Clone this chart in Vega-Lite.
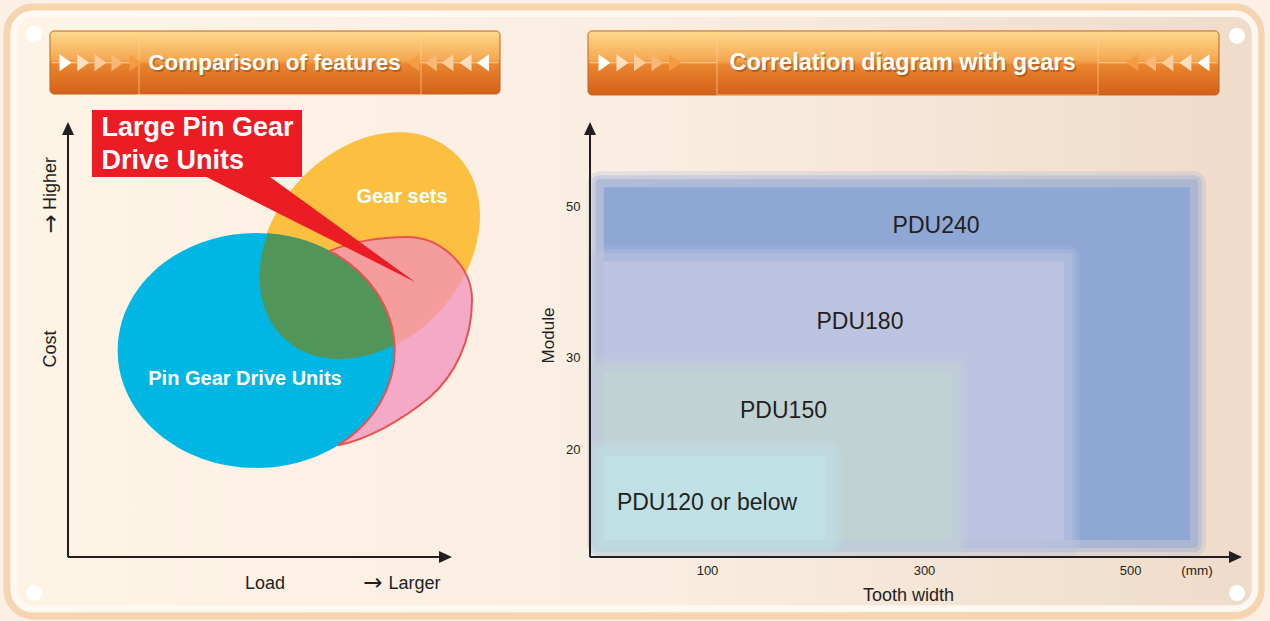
{
"$schema":"https://vega.github.io/schema/vega-lite/v6.json",
"width":1254,"height":609,
"autosize":{"type":"none"},
"padding":{"left":7,"top":7,"right":9,"bottom":5},
"background":"#fcefe3",
"view":{"fill":{"gradient":"linear","x1":0,"y1":0,"x2":1,"y2":0,"stops":[{"offset":0,"color":"#fef4e6"},{"offset":0.5,"color":"#faeee2"},{"offset":1,"color":"#efdbc9"}]},"stroke":"#f7d4b0","strokeWidth":7,"cornerRadius":26},
"config":{"text":{"font":"Liberation Sans"},"axis":{"labelFont":"Liberation Sans","titleFont":"Liberation Sans"}},
"datasets":{
"venn":[
{"region":"Gear sets","x":78.5,"y":71.5},
{"region":"Pin Gear Drive Units","x":49,"y":47.5},
{"region":"Both","x":68,"y":59},
{"region":"Large Pin Gear Drive Units","x":86,"y":50}
],
"trianglesL":[
{"dir":"right","step":1,"x":-0.65,"y":113.61},
{"dir":"right","step":2,"x":3.98,"y":113.61},
{"dir":"right","step":3,"x":8.46,"y":113.61},
{"dir":"right","step":4,"x":12.89,"y":113.61},
{"dir":"right","step":5,"x":17.58,"y":113.61},
{"dir":"left","step":5,"x":89.92,"y":113.61},
{"dir":"left","step":4,"x":94.48,"y":113.61},
{"dir":"left","step":3,"x":98.83,"y":113.61},
{"dir":"left","step":2,"x":103.52,"y":113.61},
{"dir":"left","step":1,"x":108.07,"y":113.61}
],
"trianglesR":[
{"dir":"right","step":1,"x":5.53,"y":68.86},
{"dir":"right","step":2,"x":22.12,"y":68.86},
{"dir":"right","step":3,"x":38.25,"y":68.86},
{"dir":"right","step":4,"x":54.38,"y":68.86},
{"dir":"right","step":5,"x":70.51,"y":68.86},
{"dir":"left","step":5,"x":492.0,"y":68.86},
{"dir":"left","step":4,"x":508.3,"y":68.86},
{"dir":"left","step":3,"x":524.3,"y":68.86},
{"dir":"left","step":2,"x":540.9,"y":68.86},
{"dir":"left","step":1,"x":557.6,"y":68.86}
],
"models":[
{"model":"PDU240","x":1,"x2":549,"y":53,"y2":2.4},
{"model":"PDU180","x":1,"x2":433,"y":43.2,"y2":2.4},
{"model":"PDU150","x":1,"x2":329,"y":28.8,"y2":2.4},
{"model":"PDU120 or below","x":1,"x2":213,"y":19.4,"y2":2.4}
],
"modelLabels":[
{"label":"PDU240","x":311.1,"y":47.35},
{"label":"PDU180","x":241.0,"y":34.69},
{"label":"PDU150","x":170.5,"y":24.1},
{"label":"PDU120 or below","x":100,"y":10.07}
]
},
"resolve":{"scale":{"x":"independent","y":"independent"}},
"layer":[
{
"encoding":{
"x":{"field":"x","type":"quantitative","scale":{"domain":[0,100],"range":[61,445],"nice":false,"zero":false},"axis":null},
"y":{"field":"y","type":"quantitative","scale":{"domain":[0,100],"range":[550,115],"nice":false,"zero":false},"axis":null}
},
"layer":[
{"data":{"values":[{"x":-14.13,"x2":309.11,"y":124.89,"y2":-11.84}]},
"mark":{"type":"rect","fillOpacity":0,"stroke":"#fffaf3","strokeWidth":6.5,"strokeOpacity":0.9,"cornerRadius":20},
"encoding":{"x2":{"field":"x2"},"y2":{"field":"y2"}}},
{"data":{"values":[{"x":-8.85,"y":120.23},{"x":-8.85,"y":-8.28}]},
"mark":{"type":"point","shape":"circle","filled":true,"size":254,"color":"#ffffff","opacity":1}},
{"data":{"values":[{"x":-4.6875,"x2":112.5,"y":120.92,"y2":106.44}]},
"mark":{"type":"rect","cornerRadius":4,"stroke":"#c5611b","strokeWidth":1,"fill":{"gradient":"linear","x1":0,"y1":0,"x2":0,"y2":1,"stops":[{"offset":0,"color":"#ffda8e"},{"offset":0.45,"color":"#f5a851"},{"offset":0.5,"color":"#ee9a42"},{"offset":0.53,"color":"#e8852e"},{"offset":1,"color":"#d4601a"}]}},
"encoding":{"x2":{"field":"x2"},"y2":{"field":"y2"}}},
{"data":{"values":[{"x":-4.17,"x2":18.49,"y":113.63},{"x":91.93,"x2":111.98,"y":113.63}]},
"mark":{"type":"rule","color":"#ffe0b5","strokeWidth":1,"opacity":0.7},
"encoding":{"x2":{"field":"x2"}}},
{"data":{"values":[{"x":18.49,"x2":91.93,"y":119.01,"y2":106.21}]},
"mark":{"type":"rect","fillOpacity":0,"stroke":"#fbd09a","strokeWidth":1,"strokeOpacity":0.7},
"encoding":{"x2":{"field":"x2"},"y2":{"field":"y2"}}},
{"data":{"name":"trianglesL"},
"mark":{"type":"point","filled":true,"size":4,"opacity":1,"strokeWidth":0},
"encoding":{
"shape":{"field":"dir","type":"nominal","scale":{"domain":["right","left"],"range":["M-6,-8.5L6,0L-6,8.5Z","M6,-8.5L-6,0L6,8.5Z"]},"legend":null},
"fill":{"field":"step","type":"ordinal","scale":{"domain":[1,2,3,4,5],"range":["#ffffff","#fde0c0","#fbcd9e","#f8b677","#f59c43"]},"legend":null}}},
{"data":{"values":[{"label":"Comparison of features","x":53.78,"y":113.61}]},
"mark":{"type":"text","fontWeight":"bold","fontSize":22.5,"color":"#7a3808","opacity":0.4,"dx":1.5,"dy":2.5,"align":"center","baseline":"middle"},
"encoding":{"text":{"field":"label"}}},
{"data":{"values":[{"label":"Comparison of features","x":53.78,"y":113.61}]},
"mark":{"type":"text","fontWeight":"bold","fontSize":22.5,"color":"#ffffff","align":"center","baseline":"middle"},
"encoding":{"text":{"field":"label"}}},
{"data":{"values":[{"x":0,"y":0,"x2":0,"y2":97.3},{"x":0,"y":0,"x2":97.3,"y2":0}]},
"mark":{"type":"rule","color":"#231f20","strokeWidth":2},
"encoding":{"x2":{"field":"x2"},"y2":{"field":"y2"}}},
{"data":{"values":[{"x":0,"y":100}]},
"mark":{"type":"point","filled":true,"size":4,"opacity":1,"color":"#231f20","shape":"M-6,13L0,0L6,13Z"}},
{"data":{"values":[{"x":100,"y":0}]},
"mark":{"type":"point","filled":true,"size":4,"opacity":1,"color":"#231f20","shape":"M-13,-6L0,0L-13,6Z"}},
{"data":{"values":[{"label":"Cost","x":-4.3,"y":47.82},{"label":"Higher","x":-4.3,"y":85.86}]},
"mark":{"type":"text","fontSize":18,"color":"#231f20","angle":270,"align":"center","baseline":"middle"},
"encoding":{"text":{"field":"label"}}},
{"data":{"values":[{"label":"→","x":-4.5,"y":76.6}]},
"mark":{"type":"text","font":"DejaVu Sans","fontSize":23,"color":"#231f20","angle":270,"align":"center","baseline":"middle"},
"encoding":{"text":{"field":"label"}}},
{"data":{"values":[{"label":"Load","x":51.3,"y":-6.28},{"label":"Larger","x":90.23,"y":-6.28}]},
"mark":{"type":"text","fontSize":18,"color":"#231f20","align":"center","baseline":"middle"},
"encoding":{"text":{"field":"label"}}},
{"data":{"values":[{"label":"→","x":79.4,"y":-5.9}]},
"mark":{"type":"text","font":"DejaVu Sans","fontSize":23,"color":"#231f20","align":"center","baseline":"middle"},
"encoding":{"text":{"field":"label"}}},
{"data":{"name":"venn"},"transform":[{"filter":"datum.region === 'Gear sets'"}],
"mark":{"type":"point","filled":true,"size":4,"opacity":1,"strokeWidth":0,"color":"#fdbf3f","shape":"M-84.31,93.63A126,95 -48 1 0 84.31,-93.63A126,95 -48 1 0 -84.31,93.63Z"}},
{"data":{"name":"venn"},"transform":[{"filter":"datum.region === 'Pin Gear Drive Units'"}],
"mark":{"type":"point","filled":true,"size":4,"opacity":1,"strokeWidth":0,"color":"#00b6e2","shape":"M-138.5,0A138.5,117.5 0 1 0 138.5,0A138.5,117.5 0 1 0 -138.5,0Z"}},
{"data":{"name":"venn"},"transform":[{"filter":"datum.region === 'Both'"}],
"mark":{"type":"point","filled":true,"size":4,"opacity":1,"strokeWidth":0,"color":"#519658","shape":"M-61.32,-67.05A126,95 -48 0 0 65.38,44.45A138.5,117.5 0 0 0 -61.32,-67.05Z"}},
{"data":{"name":"venn"},"transform":[{"filter":"datum.region === 'Large Pin Gear Drive Units'"}],
"mark":{"type":"point","filled":true,"size":4,"opacity":1,"fill":"#f191bc","fillOpacity":0.75,"stroke":"#e8534f","strokeWidth":2,"strokeOpacity":1,"shape":"M-68.24,-88.5C-48.24,-97.5 -18.24,-102.5 8.76,-102.5C41.76,-102.5 73.76,-74.5 73.76,-39.5C73.76,0.5 56.76,35.5 31.76,57.5C1.76,82.5 -33.24,100.5 -60.24,105.7A138.5,117.5 0 0 0 -68.24,-88.5Z"}},
{"data":{"values":[{"label":"Gear sets","x":86.98,"y":82.76},{"label":"Pin Gear Drive Units","x":46.09,"y":40.99}]},
"mark":{"type":"text","fontSize":20,"fontWeight":"bold","color":"#ffffff","align":"center","baseline":"middle"},
"encoding":{"text":{"field":"label"}}},
{"data":{"values":[{"x":60,"y":75}]},
"mark":{"type":"point","filled":true,"size":4,"opacity":1,"strokeWidth":0,"color":"#ec1c24","shape":"M-96.4,-56L-31.4,-56L116.6,51.25Z"}},
{"data":{"values":[{"x":6.25,"x2":60.94,"y":102.76,"y2":87.36}]},
"mark":{"type":"rect","color":"#ec1c24"},
"encoding":{"x2":{"field":"x2"},"y2":{"field":"y2"}}},
{"data":{"values":[{"label":"Large Pin Gear","x":8.7,"y":98.55},{"label":"Drive Units","x":8.7,"y":91.01}]},
"mark":{"type":"text","fontSize":27,"fontWeight":"bold","color":"#ffffff","align":"left","baseline":"middle"},
"encoding":{"text":{"field":"label"}}}
]
},
{
"encoding":{
"x":{"field":"x","type":"quantitative","scale":{"domain":[0,500],"range":[591.5,1134],"nice":false,"zero":false},
"axis":{"orient":"bottom","offset":-59,"values":[100,300,500],"domain":false,"ticks":false,"tickSize":0,"grid":false,"labelPadding":7,"labelFontSize":13,"labelColor":"#231f20","title":"Tooth width","titleFontSize":18,"titleFontWeight":"normal","titleColor":"#231f20","titleX":901,"titleY":38,"titleBaseline":"middle","titleAlign":"center"}},
"y":{"field":"y","type":"quantitative","scale":{"domain":[0,20,30,50,60],"range":[550,442,350,199,123],"nice":false,"zero":false},
"axis":{"orient":"left","offset":-583,"values":[20,30,50],"domain":false,"ticks":false,"tickSize":0,"grid":false,"labelPadding":10,"labelFontSize":13,"labelColor":"#231f20","title":"Module","titleFontSize":17,"titleFontWeight":"normal","titleColor":"#231f20","titleX":-41.5,"titleY":328,"titleAngle":-90,"titleBaseline":"middle","titleAlign":"center"}},
"color":{"field":"model","type":"nominal","scale":{"domain":["PDU240","PDU180","PDU150","PDU120 or below"],"range":["#8ea7d5","#bdc4e1","#c1d2d5","#bfe0e5"]},"legend":null},
"stroke":{"field":"model","type":"nominal","scale":{"domain":["PDU240","PDU180","PDU150","PDU120 or below"],"range":["#8ea7d5","#bdc4e1","#c1d2d5","#bfe0e5"]},"legend":null}
},
"layer":[
{"data":{"values":[{"x":588.5,"y":72.37},{"x":588.5,"y":-6.67}]},
"mark":{"type":"point","shape":"circle","filled":true,"size":254,"color":"#ffffff","opacity":1},
"encoding":{"color":{"value":"#ffffff"},"stroke":{"value":null}}},
{"data":{"values":[{"x":-9.68,"x2":571.9,"y":73.03,"y2":64.61}]},
"mark":{"type":"rect","cornerRadius":4,"strokeWidth":1,"fill":{"gradient":"linear","x1":0,"y1":0,"x2":0,"y2":1,"stops":[{"offset":0,"color":"#ffda8e"},{"offset":0.45,"color":"#f5a851"},{"offset":0.5,"color":"#ee9a42"},{"offset":0.53,"color":"#e8852e"},{"offset":1,"color":"#d4601a"}]}},
"encoding":{"x2":{"field":"x2"},"y2":{"field":"y2"},"color":{"value":null},"stroke":{"value":"#c5611b"}}},
{"data":{"values":[{"x":-7.8,"x2":109.2,"y":68.86},{"x":460.4,"x2":570.0,"y":68.86}]},
"mark":{"type":"rule","strokeWidth":1,"opacity":0.7},
"encoding":{"x2":{"field":"x2"},"color":{"value":"#ffe0b5"},"stroke":{"value":"#ffe0b5"}}},
{"data":{"values":[{"x":109.2,"x2":460.4,"y":71.93,"y2":64.61}]},
"mark":{"type":"rect","fillOpacity":0,"strokeWidth":1,"strokeOpacity":0.7},
"encoding":{"x2":{"field":"x2"},"y2":{"field":"y2"},"color":{"value":"#fbd09a"},"stroke":{"value":"#fbd09a"}}},
{"data":{"name":"trianglesR"},
"mark":{"type":"point","filled":true,"size":4,"opacity":1,"strokeWidth":0},
"encoding":{
"color":{"value":null},"stroke":{"value":null},
"shape":{"field":"dir","type":"nominal","scale":{"domain":["right","left"],"range":["M-6,-8.5L6,0L-6,8.5Z","M6,-8.5L-6,0L6,8.5Z"]},"legend":null},
"fill":{"field":"step","type":"ordinal","scale":{"domain":[1,2,3,4,5],"range":["#ffffff","#fde0c0","#fbcd9e","#f8b677","#f59c43"]},"legend":null}}},
{"data":{"values":[{"label":"Correlation diagram with gears","x":280.2,"y":68.86}]},
"mark":{"type":"text","fontWeight":"bold","fontSize":23.5,"opacity":0.4,"dx":1.5,"dy":2.5,"align":"center","baseline":"middle"},
"encoding":{"text":{"field":"label"},"color":{"value":"#7a3808"},"stroke":{"value":null}}},
{"data":{"values":[{"label":"Correlation diagram with gears","x":280.2,"y":68.86}]},
"mark":{"type":"text","fontWeight":"bold","fontSize":23.5,"align":"center","baseline":"middle"},
"encoding":{"text":{"field":"label"},"color":{"value":"#ffffff"},"stroke":{"value":null}}},

{"data":{"name":"models"},"transform":[{"filter":"datum.model === 'PDU240'"}],
"mark":{"type":"rect","fillOpacity":0,"strokeWidth":24,"strokeOpacity":0.2,"strokeJoin":"round"},
"encoding":{"x2":{"field":"x2"},"y2":{"field":"y2"}}},
{"data":{"name":"models"},"transform":[{"filter":"datum.model === 'PDU240'"}],
"mark":{"type":"rect","fillOpacity":0,"strokeWidth":16,"strokeOpacity":0.3,"strokeJoin":"round"},
"encoding":{"x2":{"field":"x2"},"y2":{"field":"y2"}}},
{"data":{"name":"models"},"transform":[{"filter":"datum.model === 'PDU240'"}],
"mark":{"type":"rect","fillOpacity":0,"strokeWidth":8,"strokeOpacity":0.45,"strokeJoin":"round"},
"encoding":{"x2":{"field":"x2"},"y2":{"field":"y2"}}},
{"data":{"name":"models"},"transform":[{"filter":"datum.model === 'PDU240'"}],
"mark":{"type":"rect","xOffset":4,"x2Offset":-4,"yOffset":4,"y2Offset":-4,"opacity":1,"strokeWidth":0},
"encoding":{"x2":{"field":"x2"},"y2":{"field":"y2"}}},

{"data":{"name":"models"},"transform":[{"filter":"datum.model === 'PDU180'"}],
"mark":{"type":"rect","fillOpacity":0,"strokeWidth":24,"strokeOpacity":0.2,"strokeJoin":"round"},
"encoding":{"x2":{"field":"x2"},"y2":{"field":"y2"}}},
{"data":{"name":"models"},"transform":[{"filter":"datum.model === 'PDU180'"}],
"mark":{"type":"rect","fillOpacity":0,"strokeWidth":16,"strokeOpacity":0.3,"strokeJoin":"round"},
"encoding":{"x2":{"field":"x2"},"y2":{"field":"y2"}}},
{"data":{"name":"models"},"transform":[{"filter":"datum.model === 'PDU180'"}],
"mark":{"type":"rect","fillOpacity":0,"strokeWidth":8,"strokeOpacity":0.45,"strokeJoin":"round"},
"encoding":{"x2":{"field":"x2"},"y2":{"field":"y2"}}},
{"data":{"name":"models"},"transform":[{"filter":"datum.model === 'PDU180'"}],
"mark":{"type":"rect","xOffset":4,"x2Offset":-4,"yOffset":4,"y2Offset":-4,"opacity":1,"strokeWidth":0},
"encoding":{"x2":{"field":"x2"},"y2":{"field":"y2"}}},

{"data":{"name":"models"},"transform":[{"filter":"datum.model === 'PDU150'"}],
"mark":{"type":"rect","fillOpacity":0,"strokeWidth":24,"strokeOpacity":0.2,"strokeJoin":"round"},
"encoding":{"x2":{"field":"x2"},"y2":{"field":"y2"}}},
{"data":{"name":"models"},"transform":[{"filter":"datum.model === 'PDU150'"}],
"mark":{"type":"rect","fillOpacity":0,"strokeWidth":16,"strokeOpacity":0.3,"strokeJoin":"round"},
"encoding":{"x2":{"field":"x2"},"y2":{"field":"y2"}}},
{"data":{"name":"models"},"transform":[{"filter":"datum.model === 'PDU150'"}],
"mark":{"type":"rect","fillOpacity":0,"strokeWidth":8,"strokeOpacity":0.45,"strokeJoin":"round"},
"encoding":{"x2":{"field":"x2"},"y2":{"field":"y2"}}},
{"data":{"name":"models"},"transform":[{"filter":"datum.model === 'PDU150'"}],
"mark":{"type":"rect","xOffset":4,"x2Offset":-4,"yOffset":4,"y2Offset":-4,"opacity":1,"strokeWidth":0},
"encoding":{"x2":{"field":"x2"},"y2":{"field":"y2"}}},

{"data":{"name":"models"},"transform":[{"filter":"datum.model === 'PDU120 or below'"}],
"mark":{"type":"rect","fillOpacity":0,"strokeWidth":24,"strokeOpacity":0.2,"strokeJoin":"round"},
"encoding":{"x2":{"field":"x2"},"y2":{"field":"y2"}}},
{"data":{"name":"models"},"transform":[{"filter":"datum.model === 'PDU120 or below'"}],
"mark":{"type":"rect","fillOpacity":0,"strokeWidth":16,"strokeOpacity":0.3,"strokeJoin":"round"},
"encoding":{"x2":{"field":"x2"},"y2":{"field":"y2"}}},
{"data":{"name":"models"},"transform":[{"filter":"datum.model === 'PDU120 or below'"}],
"mark":{"type":"rect","fillOpacity":0,"strokeWidth":8,"strokeOpacity":0.45,"strokeJoin":"round"},
"encoding":{"x2":{"field":"x2"},"y2":{"field":"y2"}}},
{"data":{"name":"models"},"transform":[{"filter":"datum.model === 'PDU120 or below'"}],
"mark":{"type":"rect","xOffset":4,"x2Offset":-4,"yOffset":4,"y2Offset":-4,"opacity":1,"strokeWidth":0},
"encoding":{"x2":{"field":"x2"},"y2":{"field":"y2"}}},

{"data":{"name":"modelLabels"},
"mark":{"type":"text","fontSize":23,"align":"center","baseline":"middle"},
"encoding":{"text":{"field":"label"},"color":{"value":"#231f20"},"stroke":{"value":null}}},
{"data":{"values":[{"label":"(mm)","x":551.6,"y":-2.59}]},
"mark":{"type":"text","fontSize":13.5,"align":"center","baseline":"middle"},
"encoding":{"text":{"field":"label"},"color":{"value":"#231f20"},"stroke":{"value":null}}},
{"data":{"values":[{"x":-7.83,"y":0,"x2":-7.83,"y2":59.4},{"x":-7.83,"y":0,"x2":588,"y2":0}]},
"mark":{"type":"rule","strokeWidth":2},
"encoding":{"x2":{"field":"x2"},"y2":{"field":"y2"},"color":{"value":"#231f20"},"stroke":{"value":"#231f20"}}},
{"data":{"values":[{"x":-7.83,"y":61.05}]},
"mark":{"type":"point","filled":true,"size":4,"opacity":1,"shape":"M-6,13L0,0L6,13Z"},
"encoding":{"color":{"value":"#231f20"},"stroke":{"value":null}}},
{"data":{"values":[{"x":593.1,"y":0}]},
"mark":{"type":"point","filled":true,"size":4,"opacity":1,"shape":"M-13,-6L0,0L-13,6Z"},
"encoding":{"color":{"value":"#231f20"},"stroke":{"value":null}}}
]
}
]
}
